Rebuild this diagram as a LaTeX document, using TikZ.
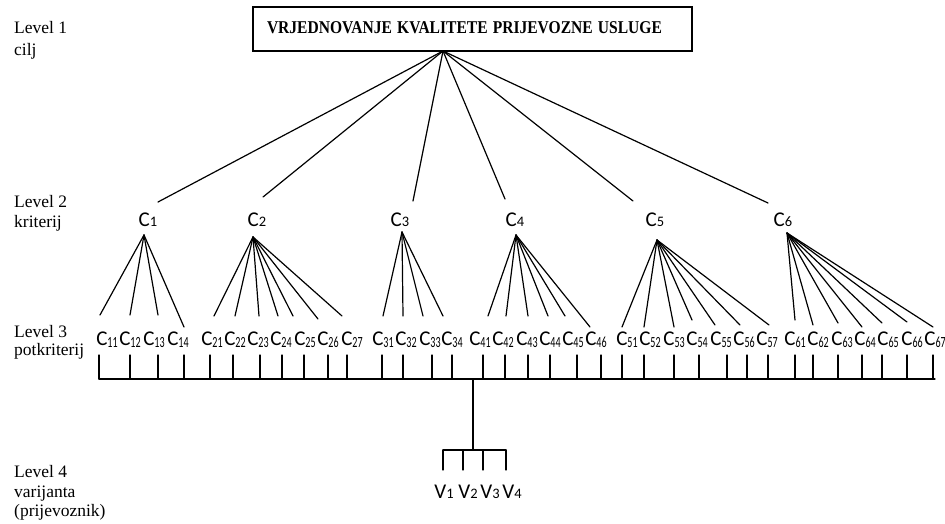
\documentclass[tikz,border=0pt]{standalone}
\usepackage{fontspec}
\usepackage{graphicx}
\setmainfont{Liberation Serif}
\newfontfamily\calfont{Carlito}
\newcommand{\Slab}[1]{{\calfont\fontsize{21}{21}\selectfont C\raisebox{-2.2pt}{\scalebox{0.65}[1]{\fontsize{15.5}{15.5}\selectfont #1}}}}
\newcommand{\Clab}[2]{{\calfont\fontsize{21}{21}\selectfont #1\raisebox{-0.5pt}{\fontsize{14.5}{14.5}\selectfont #2}}}
\begin{document}
\begin{tikzpicture}[x=1pt,y=-1pt,
  lvl/.style={anchor=base west, inner sep=0pt, font=\fontsize{17.5}{20}\selectfont},
  goal/.style={draw, line width=1.3pt, minimum width=439pt, minimum height=44pt, inner xsep=14pt, inner ysep=0pt, text width=411pt, align=left, font=\bfseries\fontsize{18}{18}\selectfont},
  crit/.style={anchor=base, inner sep=0pt},
  link/.style={line width=1.2pt, line cap=round}]
\useasboundingbox (0,0) rectangle (945,524);
% left level labels
\node[lvl] (l1a) at (14,34) {Level 1};
\node[lvl] (l1b) at (14,56) {cilj};
\node[lvl] (l2a) at (14,207) {Level 2};
\node[lvl] (l2b) at (14,227) {kriterij};
\node[lvl] (l3a) at (14,337) {Level 3};
\node[lvl] (l3b) at (14,355) {potkriterij};
\node[lvl] (l4a) at (14,477) {Level 4};
\node[lvl] (l4b) at (14,497) {varijanta};
\node[lvl] (l4c) at (14,516) {(prijevoznik)};
% goal
\node[goal] (goal) at (472.5,29) {\raisebox{3pt}{\scalebox{0.864}[1]{VRJEDNOVANJE KVALITETE PRIJEVOZNE USLUGE}}};
\coordinate (top) at (443,51);
% level 2
\foreach \i/\x/\tx/\ty/\bx/\by in {1/148/158/202/144/235, 2/257/263/197/253/237, 3/400/413/201/402/232, 4/515/505/199/516/235, 5/655/633/201/657/240, 6/783/768/203/787/233}{
  \node[crit] (c\i) at (\x,226) {\Clab{C}{\i}};
  \coordinate (t\i) at (\tx,\ty);
  \coordinate (b\i) at (\bx,\by);
  \draw[link] (top) -- (t\i);
}
% level 3 labels
\foreach \s/\x in {11/107,12/130,13/154,14/178,21/212,22/235,23/258,24/281,25/305,26/328,27/352,31/383,32/406,33/430,34/452,41/480,42/503,43/527,44/550,45/573,46/596,51/627,52/650,53/674,54/697,55/721,56/744,57/767,61/795,62/818,63/842,64/865,65/888,66/912,67/935}{
  \node[crit] (s\s) at (\x,345) {\Slab{\s}};
}
% level 2 -> level 3 connectors
\foreach \g/\s/\x/\y in {1/11/100/315,1/12/130/315,1/13/158/315,1/14/184/327,
  2/21/214/316,2/22/235/316,2/23/259/316,2/24/278/316,2/25/293/316,2/26/318/319,2/27/342/316,
  3/31/383/316,3/32/403/316,3/33/423/316,3/34/443/316,
  4/41/488/316,4/42/506/316,4/43/528/316,4/44/548/316,4/45/565/316,4/46/590/327,
  5/51/622/327,5/52/644/327,5/53/674/327,5/54/692/320,5/55/715/325,5/56/740/325,5/57/769/325,
  6/61/795/320,6/62/813/325,6/63/838/323,6/64/862/327,6/65/882/323,6/66/907/322,6/67/933/327}{
  \coordinate (e\s) at (\x,\y);
  \draw[link] (b\g) -- (e\s);
}
% bar with ticks
\coordinate (barL) at (99,379);
\coordinate (barR) at (935,379);
\draw[link] (barL) -- (barR);
\foreach \x [count=\i] in {99,130,158,184,210,233,260,282,304,328,347,382,403,432,452,483,505,528,550,577,601,622,644,674,699,727,747,768,795,813,838,862,882,907,933}{
  \coordinate (k\i) at (\x,379);
  \draw[link] (k\i) -- ++(0,-24);
}
% level 4
\coordinate (barM) at (473,379);
\coordinate (vj) at (473,450);
\coordinate (vL) at (443,450);
\coordinate (vR) at (506,450);
\draw[link] (barM) -- (vj);
\draw[link] (vL) -- (vR);
\foreach \i/\x/\lx in {1/443/444,2/463/468,3/483/490,4/506/512}{
  \coordinate (w\i) at (\x,450);
  \draw[link] (w\i) -- ++(0,20);
  \node[crit] (v\i) at (\lx,498) {\Clab{V}{\i}};
}
\end{tikzpicture}
\end{document}
